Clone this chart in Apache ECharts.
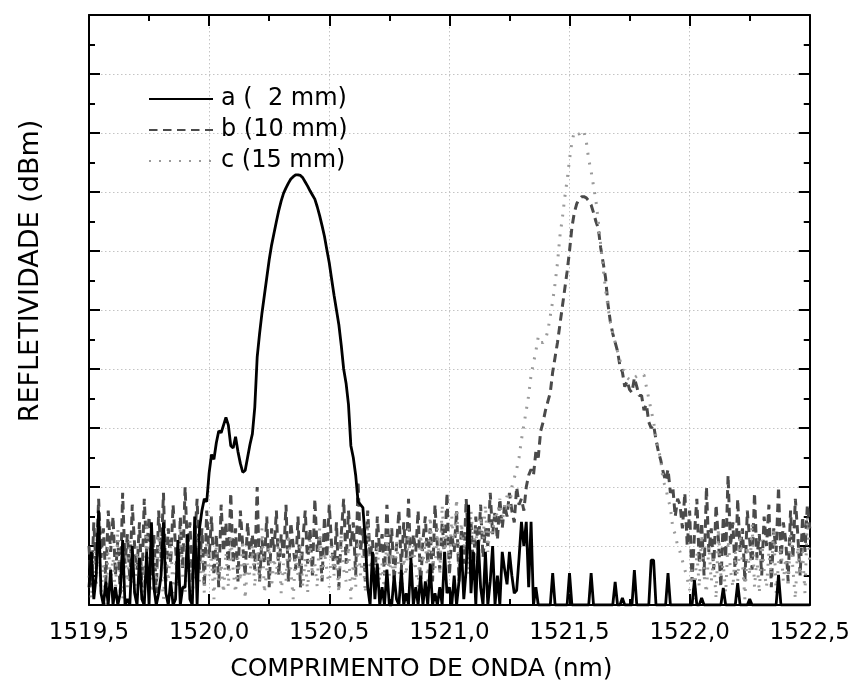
<!DOCTYPE html>
<html>
<head>
<meta charset="utf-8">
<script src="https://cdn.jsdelivr.net/npm/echarts@6/dist/echarts.min.js"></script>
<style>
html,body{margin:0;padding:0;background:#fff;}
#chart{width:853px;height:689px;}
</style>
</head>
<body>
<div id="chart"></div>
<script>
// Wavelength sampling grid (nm)
const WAVE_START = 1519.5;
const WAVE_STEP = 0.01;
const X_MIN = 1519.5, X_MAX = 1522.5;
const xTickValues = [1519.5, 1520.0, 1520.5, 1521.0, 1521.5, 1522.0, 1522.5];
const xTickLabels = ['1519,5', '1520,0', '1520,5', '1521,0', '1521,5', '1522,0', '1522,5'];
const seriesNames = ['a (  2 mm)', 'b (10 mm)', 'c (15 mm)'];

// a (2 mm) — solid black
const reflA = [
0.3,0.9,0.1,0.5,1.6,0.2,0.0,0.4,0.0,0.6,
0.0,0.3,0.0,0.2,1.1,0.0,0.1,0.0,1.0,0.2,
0.0,0.8,0.1,0.0,0.9,0.0,1.4,0.3,0.0,0.2,
0.5,1.4,0.2,0.0,0.4,0.0,0.1,1.1,0.0,0.3,
0.3,1.2,0.1,0.0,1.5,0.0,1.3,1.6,1.8,1.75,
2.24,2.55,2.47,2.75,2.95,2.92,3.05,3.18,3.05,2.70,
2.66,2.85,2.6,2.4,2.25,2.28,2.5,2.72,2.9,3.35,
4.2,4.6,4.95,5.25,5.55,5.85,6.1,6.3,6.5,6.69,
6.85,6.98,7.07,7.15,7.22,7.26,7.29,7.29,7.28,7.24,
7.17,7.1,7.02,6.95,6.88,6.75,6.6,6.43,6.25,6.02,
5.8,5.52,5.25,5.0,4.75,4.4,4.0,3.76,3.4,2.7,
2.5,2.2,1.75,1.7,1.65,1.1,0.3,0.0,0.9,0.1,
0.7,0.0,0.3,0.0,0.6,0.0,0.0,0.5,0.1,0.0,
0.6,0.0,0.2,0.0,0.8,0.0,0.3,0.0,0.5,0.0,
0.4,0.0,0.7,0.0,0.2,0.0,0.3,0.0,0.9,0.2,
0.3,0.0,0.5,0.0,0.4,1.0,0.1,0.6,1.7,0.2,
0.9,0.0,1.1,0.3,0.0,0.9,0.0,0.4,1.0,0.0,
0.5,0.0,0.9,0.6,0.35,0.9,0.5,0.2,0.25,0.8,
1.41,1.0,1.41,0.3,1.41,0.0,0.3,0.0,0.0,0.0,
0,0,0,0.54,0,0,0,0,0,0,
0.54,0,0,0,0,0,0,0,0,0.54,
0,0,0,0,0,0,0,0,0,0.39,
0,0,0.12,0,0,0,0,0.59,0,0,
0,0,0,0,0.76,0.76,0,0,0,0,
0,0.54,0,0,0,0,0,0,0,0,
0,0,0.42,0,0,0.12,0,0,0,0,
0,0,0,0,0.29,0,0,0,0,0,
0.37,0,0,0,0,0.1,0,0,0,0,
0,0,0,0,0,0,0,0.51,0,0,
0,0,0,0,0,0,0,0,0,0,0
];

// b (10 mm) — dashed dark grey
const reflB = [
1.0,0.3,1.4,0.6,1.8,0.8,1.3,0.4,1.6,0.9,
1.5,0.5,1.1,0.2,1.9,0.7,1.2,0.4,1.7,1.0,
0.6,1.4,0.3,1.8,0.9,1.5,0.5,1.2,0.2,1.6,
0.8,1.9,0.4,1.3,0.7,1.7,1.0,0.3,1.5,0.6,
2.0,0.9,1.4,0.4,1.1,1.8,0.6,1.3,0.3,1.6,
0.8,1.5,0.5,1.2,0.3,1.7,0.9,1.4,0.6,1.9,
0.7,1.3,0.4,1.6,1.0,0.5,1.4,0.8,1.2,0.6,
2.0,0.4,1.1,0.7,1.5,0.3,1.3,0.9,1.6,0.5,
1.2,0.8,1.7,0.4,1.4,1.0,0.6,1.5,0.3,1.1,
1.6,0.7,1.3,0.5,1.8,0.9,1.2,0.4,1.5,0.8,
1.7,1.0,0.6,1.4,0.3,1.2,1.8,0.7,1.6,1.0,
1.4,0.5,2.1,0.9,1.3,0.4,1.6,0.8,1.1,0.3,
1.5,0.9,1.2,0.5,1.7,0.7,1.3,0.4,1.0,1.6,
0.6,1.4,0.8,1.8,0.5,1.2,0.9,1.6,0.3,1.1,
1.5,0.7,1.3,0.4,1.7,1.0,0.6,1.4,0.8,1.9,
0.5,1.2,0.9,1.6,0.4,1.3,0.7,1.8,1.0,1.4,
0.6,1.5,0.9,1.7,0.8,1.3,1.0,1.9,1.2,1.6,
1.1,1.8,1.3,1.7,1.5,1.9,1.6,1.4,2.0,1.7,
1.8,1.6,2.0,2.2,2.3,2.2,2.6,2.5,2.95,3.1,
3.3,3.45,3.6,3.95,4.2,4.45,4.75,5.05,5.35,5.65,
6.0,6.4,6.65,6.8,6.88,6.92,6.92,6.9,6.85,6.78,
6.65,6.5,6.38,6.05,5.8,5.55,5.1,4.8,4.6,4.45,
4.3,4.05,3.95,3.7,3.8,3.65,3.6,3.85,3.7,3.55,
3.55,3.3,3.4,3.1,3.0,3.05,2.8,2.6,2.45,2.25,
2.1,2.3,1.9,2.0,1.5,1.8,1.7,1.3,1.9,1.0,
1.6,0.4,1.2,1.8,0.7,1.4,0.5,2.0,0.9,1.3,
0.6,1.7,1.1,0.3,1.5,0.8,2.2,1.0,1.4,0.5,
1.8,0.9,1.3,0.4,1.6,1.1,0.6,1.9,0.8,1.2,
0.5,1.5,1.0,1.7,0.3,1.3,0.9,2.0,0.7,1.4,
1.1,0.4,1.6,0.8,1.8,1.2,0.5,1.5,0.9,1.7,1.3
];

// c (15 mm) — dotted light grey
const reflC = [
0.5,0.1,0.9,0.3,1.2,0.2,0.7,0.0,1.0,0.4,
0.8,0.2,1.3,0.5,0.1,0.9,0.3,1.1,0.6,0.2,
1.0,0.4,0.7,0.1,1.4,0.5,0.2,0.8,0.3,1.2,
0.6,0.1,0.9,0.4,1.1,0.2,0.7,0.3,1.3,0.5,
0.2,1.0,0.6,0.1,0.8,1.2,0.4,0.9,0.2,1.1,
0.5,0.8,0.1,1.0,0.4,0.7,0.2,0.9,0.3,1.2,
0.6,0.2,0.8,0.4,1.1,0.1,0.7,0.5,1.0,0.3,
0.9,0.4,1.3,0.2,0.6,1.0,0.3,0.8,0.5,1.1,
0.2,0.7,0.4,1.2,0.6,0.1,0.9,0.5,1.0,0.3,
0.8,0.2,1.1,0.5,0.7,0.3,1.3,0.4,0.9,0.6,
0.3,1.0,0.5,0.8,0.2,1.2,0.6,0.4,1.0,0.1,
0.7,0.3,1.1,0.5,0.9,0.2,1.4,0.6,0.8,0.3,
1.0,0.4,0.7,0.2,1.2,0.5,0.9,0.3,1.1,0.6,
0.2,0.8,0.5,1.3,0.4,1.0,0.6,0.3,1.2,0.7,
1.1,0.4,1.5,0.8,0.6,1.3,0.5,1.7,0.9,1.2,
0.7,1.5,1.0,1.8,0.6,1.4,0.9,1.2,0.5,1.6,
1.0,1.3,0.7,1.5,1.1,1.7,0.9,1.4,1.2,1.6,
1.5,1.8,1.4,1.7,1.85,1.6,2.0,2.15,2.3,2.5,
2.8,3.05,3.3,3.55,3.9,4.1,4.3,4.55,4.45,4.45,
4.5,4.65,4.9,5.15,5.45,5.8,6.25,6.55,6.9,7.2,
7.55,7.85,8.02,8.0,7.98,8.05,8.02,7.85,7.55,7.35,
7.1,6.85,6.5,6.1,5.7,5.35,5.05,4.8,4.6,4.45,
4.3,4.15,4.0,3.95,3.85,3.82,3.8,3.85,3.88,3.9,
3.88,3.9,3.7,3.5,3.3,3.1,2.85,2.65,2.45,2.1,
2.0,1.8,1.65,1.3,1.2,1.0,0.9,0.75,0.6,0.45,
0.25,0.6,0.1,0.9,0.3,1.2,0.5,0.2,1.0,0.4,
0.8,0.1,1.3,0.5,0.7,0.2,1.1,0.6,0.3,0.9,
0.4,1.2,0.7,0.1,1.0,0.5,1.4,0.3,0.8,0.2,
1.1,0.6,0.3,0.9,0.5,1.3,0.2,0.7,1.0,0.4,
0.8,0.3,1.2,0.6,0.1,1.0,0.5,0.9,0.2,1.5,0.7
];

function pairs(values) {
  return values.map((v, i) => [+(WAVE_START + i * WAVE_STEP).toFixed(2), v]);
}

const FONT = 'DejaVu Sans';
const chart = echarts.init(document.getElementById('chart'), null, {renderer: 'canvas'});

const tickStyle = {color: '#000', width: 2};
function frameAxisCommon(extra) {
  return Object.assign({
    type: 'value',
    axisLine: {show: true, onZero: false, lineStyle: {color: '#000', width: 2}},
    axisTick: {show: true, inside: true, length: 11, lineStyle: tickStyle},
    minorTick: {show: true, splitNumber: 2, length: 6, lineStyle: tickStyle},
    minorSplitLine: {show: false}
  }, extra);
}

const gridLine = {show: true, lineStyle: {color: '#c4c4c4', width: 1, type: [1.5, 2.5]}};

const option = {
  backgroundColor: '#fff',
  animation: false,
  grid: {left: 89, right: 41, top: 15, bottom: 84},
  legend: {
    orient: 'vertical',
    left: 143,
    top: 82,
    itemWidth: 64,
    itemHeight: 14,
    itemGap: 7,
    data: seriesNames,
    itemStyle: {opacity: 0},
    textStyle: {fontFamily: FONT, fontSize: 24, color: '#000', padding: [0, 0, 0, 3]}
  },
  xAxis: [
    frameAxisCommon({
      position: 'bottom', min: X_MIN, max: X_MAX, interval: 0.5,
      splitLine: gridLine,
      axisLabel: {
        show: true, margin: 17, color: '#000', fontFamily: FONT, fontSize: 23,
        formatter: function (v) {
          const k = xTickValues.findIndex(t => Math.abs(t - v) < 1e-6);
          return k >= 0 ? xTickLabels[k] : '';
        }
      },
      name: 'COMPRIMENTO DE ONDA (nm)', nameLocation: 'middle', nameGap: 52,
      nameTextStyle: {color: '#000', fontFamily: FONT, fontSize: 25, padding: [0, 56, 0, 0]}
    }),
    frameAxisCommon({
      position: 'top', min: X_MIN, max: X_MAX, interval: 0.5,
      splitLine: {show: false}, axisLabel: {show: false}
    })
  ],
  yAxis: [
    frameAxisCommon({
      position: 'left', min: 0, max: 10, interval: 1,
      splitLine: gridLine,
      axisLabel: {show: false},
      name: 'REFLETIVIDADE (dBm)', nameLocation: 'middle', nameGap: 45, nameRotate: 90,
      nameTextStyle: {color: '#000', fontFamily: FONT, fontSize: 27, padding: [0, 0, 0, 78]}
    }),
    frameAxisCommon({
      position: 'right', min: 0, max: 10, interval: 1,
      splitLine: {show: false}, axisLabel: {show: false}
    })
  ],
  series: [
    {
      name: seriesNames[1], type: 'line', xAxisIndex: 0, yAxisIndex: 0,
      data: pairs(reflB), symbol: 'none', showSymbol: false, z: 2,
      lineStyle: {color: '#4a4a4a', width: 3, type: [8.5, 5.5]},
      itemStyle: {color: '#4a4a4a'}
    },
    {
      name: seriesNames[2], type: 'line', xAxisIndex: 0, yAxisIndex: 0,
      data: pairs(reflC), symbol: 'none', showSymbol: false, z: 3,
      lineStyle: {color: '#9a9a9a', width: 3, type: [2, 8]},
      itemStyle: {color: '#9a9a9a'}
    },
    {
      name: seriesNames[0], type: 'line', xAxisIndex: 0, yAxisIndex: 0,
      data: pairs(reflA), symbol: 'none', showSymbol: false, z: 4,
      lineStyle: {color: '#000', width: 2.8},
      itemStyle: {color: '#000'}
    }
  ]
};
chart.setOption(option);
</script>
</body>
</html>
